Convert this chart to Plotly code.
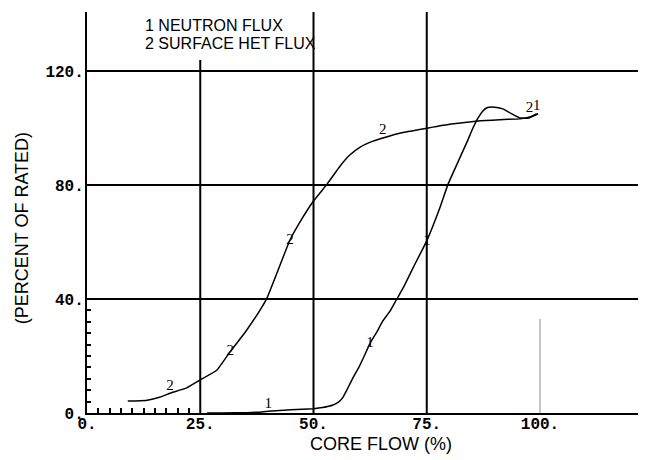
import plotly.graph_objects as go

# ---- data ----
flow_neutron = [26.5, 30, 35, 38, 40, 45, 50, 52, 54.3, 55.5, 56.5, 57.5, 58.7, 60, 61,
                62.5, 64, 65.3, 67, 68.4, 70, 72, 75, 77.9, 79.7, 82.3, 84, 85.2, 86.3,
                87.4, 88.4, 89.4, 90.5, 91.8, 93.5, 95.6, 97.5, 99.3]
neutron_flux = [0, 0, 0.1, 0.3, 0.6, 1.1, 1.5, 1.9, 2.8, 3.8, 5.5, 8.5, 12.3, 16, 19.3,
                24.5, 28.5, 32.3, 36, 40, 44.5, 51, 60.4, 72, 80.3, 89.5, 95.5, 100, 103.5,
                106, 107.2, 107.4, 107.2, 106.7, 105.2, 103.5, 103.5, 105]
neutron_labels = {4: ("1", "top center"), 15: ("1", "middle center"),
                  22: ("1", "middle center"), 37: ("1", "top center")}

flow_heat = [9, 13, 16, 18.3, 22, 25, 28.7, 31.6, 35, 38.2, 39.7, 42.2, 44.8, 47, 50,
             53, 55.8, 58, 60.3, 63, 65.3, 70, 75.3, 80, 86.8, 92, 95.6, 98.5, 99.6]
heat_flux = [4.2, 4.4, 5.5, 6.9, 8.8, 11.6, 15.1, 21.5, 28.5, 36.1, 40.2, 50.2, 60.7, 67,
             74.4, 80.3, 86.5, 90.5, 93.3, 95.3, 96.5, 98.5, 100, 101.3, 102.5, 103, 103.2,
             104.2, 105]
heat_labels = {3: ("2", "top center"), 7: ("2", "middle center"),
               12: ("2", "middle center"), 20: ("2", "top center"), 27: ("2", "top left")}

x_tick_vals = [0, 25, 50, 75, 100]
x_tick_text = ["0.", "25.", "50.", "75.", "100."]
y_tick_vals = [0, 40, 80, 120]
y_tick_text = ["0.", "40.", "80.", "120."]
x_minor_vals = [2.5, 5, 7.5, 10, 12.5, 15, 17.5, 20, 22.5]
y_minor_vals = [4, 8, 12, 16, 20, 24, 28, 32, 36]
x_grid_vals = [25, 50, 75]

legend_lines = ["1 NEUTRON FLUX", "2 SURFACE HET FLUX"]

# ---- figure ----
fig = go.Figure()

def labels_for(n, spec):
    txt = [spec[i][0] if i in spec else "" for i in range(n)]
    pos = [spec[i][1] if i in spec else "middle center" for i in range(n)]
    return txt, pos

for xs, ys, spec in [(flow_neutron, neutron_flux, neutron_labels),
                     (flow_heat, heat_flux, heat_labels)]:
    txt, pos = labels_for(len(xs), spec)
    fig.add_trace(go.Scatter(
        x=xs, y=ys, mode="lines+text", text=txt, textposition=pos,
        textfont=dict(family="Liberation Serif", size=15, color="black"),
        line=dict(color="black", width=1.5, shape="spline", smoothing=0.3),
        showlegend=False, hoverinfo="skip"))

shapes = []
for gx in x_grid_vals:
    shapes.append(dict(type="line", xref="x", yref="y domain", x0=gx, x1=gx,
                       y0=0, y1=(0.88 if gx == 25 else 1),
                       line=dict(color="black", width=2), layer="below"))
# faint partial line at 100
shapes.append(dict(type="line", xref="x", yref="y", x0=100, x1=100, y0=0, y1=33,
                   line=dict(color="#888888", width=1), layer="below"))

tick_font = dict(family="Liberation Mono", size=16, color="black", weight="bold")

fig.update_layout(
    width=638, height=452,
    margin=dict(l=79, r=0, t=4, b=47),
    paper_bgcolor="white", plot_bgcolor="white",
    shapes=shapes,
    xaxis=dict(range=[0, 123.4], showgrid=False, zeroline=False,
               showline=True, linecolor="black", linewidth=2,
               tickmode="array", tickvals=x_tick_vals, ticktext=x_tick_text,
               ticks="", ticklabelstandoff=-5, tickfont=tick_font,
               minor=dict(tickmode="array", tickvals=x_minor_vals, ticks="inside",
                          ticklen=5, tickcolor="black", tickwidth=1.5, showgrid=False)),
    yaxis=dict(range=[0, 140.7], showgrid=True, gridcolor="black", gridwidth=2,
               zeroline=False, showline=True, linecolor="black", linewidth=2,
               tickmode="array", tickvals=y_tick_vals, ticktext=y_tick_text,
               ticks="", ticklabelstandoff=-2, tickfont=tick_font,
               minor=dict(tickmode="array", tickvals=y_minor_vals, ticks="inside",
                          ticklen=4, tickcolor="black", tickwidth=1.5, showgrid=False)),
    annotations=[
        dict(text="CORE FLOW (%)", xref="paper", yref="paper", x=0.526, y=-0.077,
             xanchor="center", yanchor="middle", showarrow=False,
             font=dict(family="Liberation Sans", size=18, color="black")),
        dict(text="(PERCENT OF RATED)", xref="paper", yref="paper", x=-0.116, y=0.461,
             xanchor="center", yanchor="middle", textangle=-90, showarrow=False,
             font=dict(family="Liberation Sans", size=18, color="black")),
        dict(text=legend_lines[0], xref="paper", yref="paper", x=0.1, y=0.966,
             xanchor="left", yanchor="middle", showarrow=False,
             font=dict(family="Liberation Sans", size=16, color="black")),
        dict(text=legend_lines[1], xref="paper", yref="paper", x=0.1, y=0.921,
             xanchor="left", yanchor="middle", showarrow=False,
             font=dict(family="Liberation Sans", size=16, color="black")),
    ],
)

fig.write_html("out.html")
